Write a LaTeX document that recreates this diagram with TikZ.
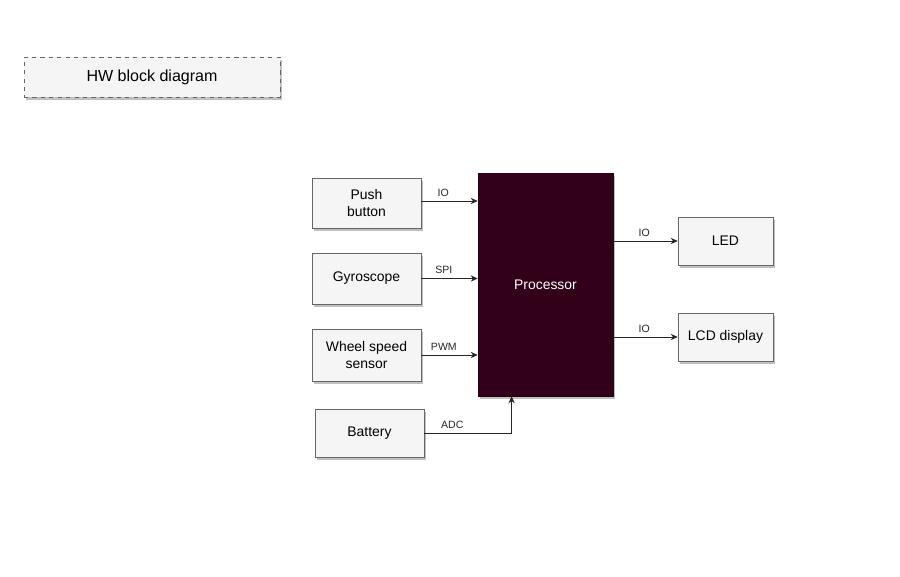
\documentclass[tikz,border=0pt]{standalone}
\usepackage{fontspec}
\setmainfont{Liberation Sans}
\usetikzlibrary{arrows.meta, positioning, shadows, calc}
\definecolor{boxfill}{RGB}{245,245,245}
\definecolor{boxline}{RGB}{102,102,102}
\definecolor{cpucol}{RGB}{51,0,26}

\begin{document}
\begin{tikzpicture}[
  x=0.025cm, y=-0.025cm,
  font=\fontsize{9.9pt}{12pt}\selectfont,
  block/.style={draw=boxline, fill=boxfill, align=center, inner sep=1pt,
                minimum width=2.725cm, minimum height=1.25cm,
                drop shadow={shadow xshift=0.06cm, shadow yshift=-0.07cm,
                             opacity=0.45, fill=black!55}},
  outblock/.style={block, minimum width=2.375cm, minimum height=1.2cm},
  sig/.style={font=\fontsize{7.5pt}{8pt}\selectfont, inner sep=1.5pt,
              yshift=1.6pt},
  arr/.style={-{Stealth[length=5pt, width=4.5pt]}, black!85, line width=0.6pt}
]
  \useasboundingbox (0,0) rectangle (900,577);

  \node[block, dashed, minimum width=6.4cm, minimum height=1cm,
        font=\fontsize{11.4pt}{13pt}\selectfont] (title) at (152,77)
    {HW block diagram};

  \node[draw=cpucol!80!black, fill=cpucol, text=white,
        minimum width=3.375cm, minimum height=5.575cm,
        drop shadow={shadow xshift=0.06cm, shadow yshift=-0.07cm,
                     opacity=0.45, fill=black!55}] (proc) at (545.5,284.5)
    {Processor};

  \node[block] (push) at (366.5,203) {Push\\button};
  \node[block, minimum height=1.275cm] (gyro) at (366.5,278.5) {Gyroscope};
  \node[block, minimum height=1.3cm] (wheel) at (366.5,355) {Wheel speed\\sensor};
  \node[block, minimum height=1.2cm] (bat) at (369.5,433) {Battery};

  \node[outblock] (led) at (725.5,241) {LED};
  \node[outblock] (lcd) at (725.5,337) {LCD display};

  % inputs
  \coordinate (pushout) at ($(push.east)+(0,-2)$);
  \draw[arr] (pushout) -- (pushout -| proc.west)
    node[sig, pos=0.39, above] {IO};
  \draw[arr] (gyro.east) -- (gyro.east -| proc.west)
    node[sig, pos=0.4, above] {SPI};
  \draw[arr] (wheel.east) -- (wheel.east -| proc.west)
    node[sig, pos=0.4, above] {PWM};
  \coordinate (adcin) at ($(proc.south west)!0.25!(proc.south east)$);
  \draw[arr] (bat.east) -| (adcin)
    node[sig, pos=0.16, above] {ADC};

  % outputs
  \draw[arr] (led.west -| proc.east) -- (led.west)
    node[sig, pos=0.48, above] {IO};
  \draw[arr] (lcd.west -| proc.east) -- (lcd.west)
    node[sig, pos=0.48, above] {IO};
\end{tikzpicture}
\end{document}
